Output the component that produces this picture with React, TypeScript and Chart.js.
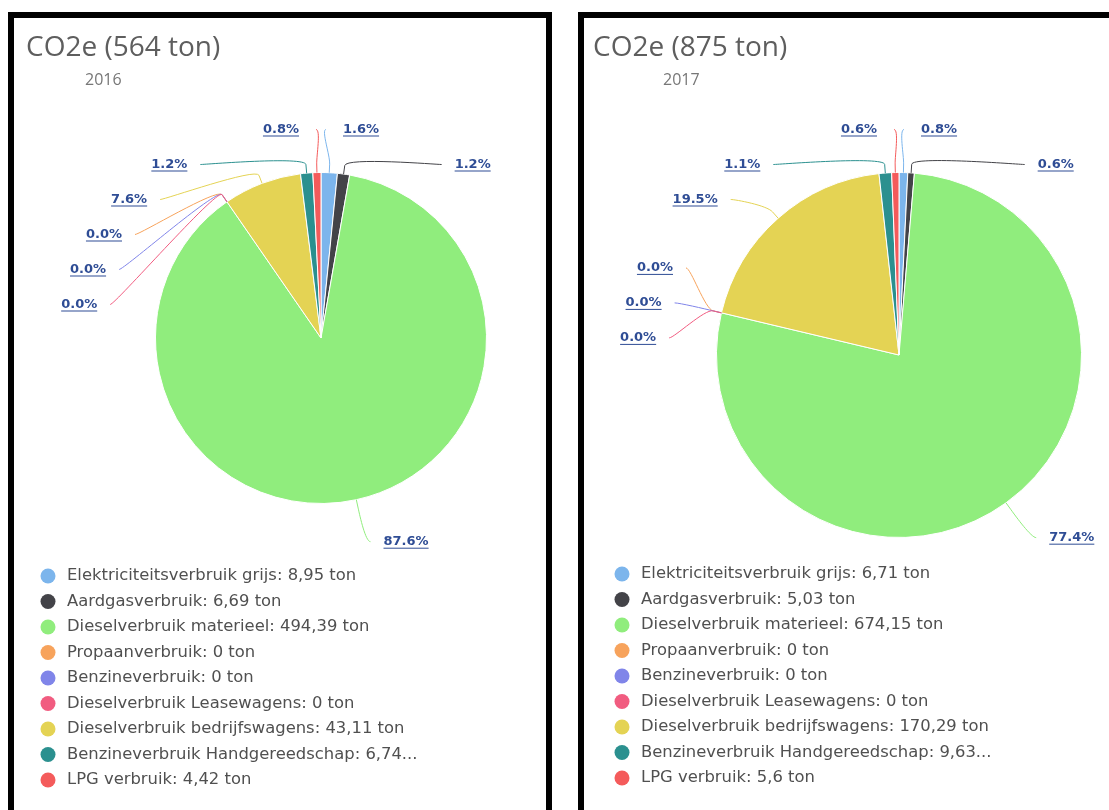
import React, { useEffect, useRef } from "react";
import { Chart, registerables } from "chart.js";

Chart.register(...registerables);

const categories = [
  "Elektriciteitsverbruik grijs",
  "Aardgasverbruik",
  "Dieselverbruik materieel",
  "Propaanverbruik",
  "Benzineverbruik",
  "Dieselverbruik Leasewagens",
  "Dieselverbruik bedrijfswagens",
  "Benzineverbruik Handgereedschap",
  "LPG verbruik",
];
const sliceColors = ["#7cb5ec", "#434348", "#90ed7d", "#f7a35c", "#8085e9", "#f15c80", "#e4d354", "#2b908f", "#f45b5b"];
const values2016 = [8.95, 6.69, 494.39, 0, 0, 0, 43.11, 6.74, 4.42];
const values2017 = [6.71, 5.03, 674.15, 0, 0, 0, 170.29, 9.63, 5.6];
const titles = ["CO2e (564 ton)", "CO2e (875 ton)"];
const subtitles = ["2016", "2017"];
const unit = "ton";

type Layout = {
  pad: { left: number; right: number; top: number; bottom: number };
  titleX: number;
  subX: number;
  legendX: number;
  legendY: number;
};

const layouts: Layout[] = [
  { pad: { left: 141, right: 59, top: 154, bottom: 306 }, titleX: 12, subX: 71, legendX: 34, legendY: 558 },
  { pad: { left: 132, right: 34, top: 154, bottom: 272 }, titleX: 9, subX: 79, legendX: 38, legendY: 556 },
];

const fmt = (v: number) => String(v).replace(".", ",");

function distribute(items: any[], h: number, minY: number) {
  const clusters = items.map((it) => ({ items: [it], top: 0 }));
  const place = (c: any) => {
    const n = c.items.length;
    const mean = c.items.reduce((s: number, it: any) => s + it.target, 0) / n;
    c.top = Math.max(minY, mean - ((n - 1) * h) / 2);
  };
  clusters.forEach(place);
  let changed = true;
  while (changed) {
    changed = false;
    for (let i = 0; i < clusters.length - 1; i++) {
      const a = clusters[i];
      const b = clusters[i + 1];
      if (a.top + a.items.length * h > b.top + 0.01) {
        a.items = a.items.concat(b.items);
        clusters.splice(i + 1, 1);
        place(a);
        changed = true;
        break;
      }
    }
  }
  clusters.forEach((c) => c.items.forEach((it: any, k: number) => (it.ly = c.top + k * h)));
}

const hcPlugin = {
  id: "hc",
  afterDraw(chart: any) {
    const o = chart.options.plugins.hc;
    const ctx: CanvasRenderingContext2D = chart.ctx;
    const ds = chart.data.datasets[0];
    const data: number[] = ds.data;
    const total = data.reduce((s, v) => s + v, 0);
    ctx.save();

    // title + subtitle
    ctx.textAlign = "left";
    ctx.textBaseline = "alphabetic";
    ctx.fillStyle = "#5e5e5e";
    ctx.font = "28px 'Open Sans'";
    ctx.fillText(o.title, o.titleX, 38);
    ctx.fillStyle = "#777777";
    ctx.font = "16px 'Open Sans'";
    ctx.fillText(o.subtitle, o.subX, 67);

    // data labels
    const meta = chart.getDatasetMeta(0);
    const dist = 43;
    const h = 35;
    const items = meta.data.map((arc: any, i: number) => {
      const mid = (arc.startAngle + arc.endAngle) / 2;
      const r = arc.outerRadius;
      const R = r + dist;
      const left = Math.cos(mid) < -1e-9;
      return {
        i,
        mid,
        r,
        R,
        cx: arc.x,
        cy: arc.y,
        left,
        target: arc.y + R * Math.sin(mid),
        ly: 0,
      };
    });
    for (const side of [true, false]) {
      const group = items.filter((it: any) => it.left === side).sort((a: any, b: any) => a.target - b.target);
      if (group.length) distribute(group, h, group[0].cy - group[0].R);
    }
    ctx.font = "bold 13px 'DejaVu Sans'";
    ctx.textBaseline = "middle";
    for (const it of items) {
      const dy = it.ly - it.cy;
      const dx = Math.abs(dy) >= it.R ? 0 : Math.sqrt(it.R * it.R - dy * dy);
      const sgn = it.left ? -1 : 1;
      const lx = it.cx + sgn * dx;
      const ex = it.cx + it.r * Math.cos(it.mid);
      const ey = it.cy + it.r * Math.sin(it.mid);
      const off = dist / 5;
      const bx = it.cx + (it.r + off) * Math.cos(it.mid);
      const by = it.cy + (it.r + off) * Math.sin(it.mid);
      const sx = lx + sgn * 5;
      ctx.strokeStyle = sliceColors[it.i];
      ctx.lineWidth = 1;
      ctx.beginPath();
      ctx.moveTo(sx, it.ly);
      ctx.bezierCurveTo(lx, it.ly, 2 * bx - ex, 2 * by - ey, bx, by);
      ctx.lineTo(ex, ey);
      ctx.stroke();

      const txt = ((data[it.i] / total) * 100).toFixed(1) + "%";
      const w = ctx.measureText(txt).width;
      const gap = dx < 30 ? 22 : 18;
      const tx = it.left ? lx - gap - w : lx + gap;
      ctx.fillStyle = "#2f4d95";
      ctx.textAlign = "left";
      ctx.fillText(txt, tx, it.ly);
      ctx.fillRect(tx, it.ly + 6, w, 1);
    }

    // legend
    ctx.font = "16.4px 'DejaVu Sans'";
    ctx.textBaseline = "middle";
    ctx.textAlign = "left";
    const maxW = 358;
    chart.data.labels.forEach((lab: string, i: number) => {
      const y = o.legendY + i * 25.5;
      ctx.fillStyle = sliceColors[i];
      ctx.beginPath();
      ctx.arc(o.legendX, y, 7.5, 0, Math.PI * 2);
      ctx.fill();
      let text = `${lab}: ${fmt(data[i])} ${unit}`;
      if (ctx.measureText(text).width > maxW) {
        const words = text.split(" ");
        while (words.length > 1 && ctx.measureText(words.join(" ") + "...").width > maxW) words.pop();
        text = words.join(" ") + "...";
      }
      ctx.fillStyle = "#505050";
      ctx.fillText(text, o.legendX + 19, y);
    });
    ctx.restore();
  },
};

function PiePanel({ values, title, subtitle, layout, left }: any) {
  const ref = useRef<HTMLCanvasElement>(null);
  useEffect(() => {
    const chart = new Chart(ref.current as HTMLCanvasElement, {
      type: "pie",
      data: {
        labels: categories,
        datasets: [
          {
            data: values,
            backgroundColor: sliceColors,
            borderColor: "#ffffff",
            borderWidth: 1,
            hoverOffset: 0,
            offset: 0,
          },
        ],
      },
      options: {
        animation: false,
        responsive: true,
        maintainAspectRatio: false,
        events: [],
        layout: { padding: layout.pad },
        plugins: {
          legend: { display: false },
          tooltip: { enabled: false },
          title: { display: false },
          hc: { title, subtitle, ...layout },
        } as any,
      },
      plugins: [hcPlugin],
    });
    return () => chart.destroy();
  }, []);
  return (
    <div
      style={{
        position: "absolute",
        left,
        top: 12,
        width: 544,
        height: 820,
        border: "6px solid #000",
        boxSizing: "border-box",
        background: "#fff",
      }}
    >
      <div style={{ position: "relative", width: 532, height: 792 }}>
        <canvas ref={ref} />
      </div>
    </div>
  );
}

export default function App() {
  return (
    <div style={{ position: "fixed", inset: 0, overflow: "hidden", background: "#fff" }}>
      <PiePanel values={values2016} title={titles[0]} subtitle={subtitles[0]} layout={layouts[0]} left={8} />
      <PiePanel values={values2017} title={titles[1]} subtitle={subtitles[1]} layout={layouts[1]} left={578} />
    </div>
  );
}
